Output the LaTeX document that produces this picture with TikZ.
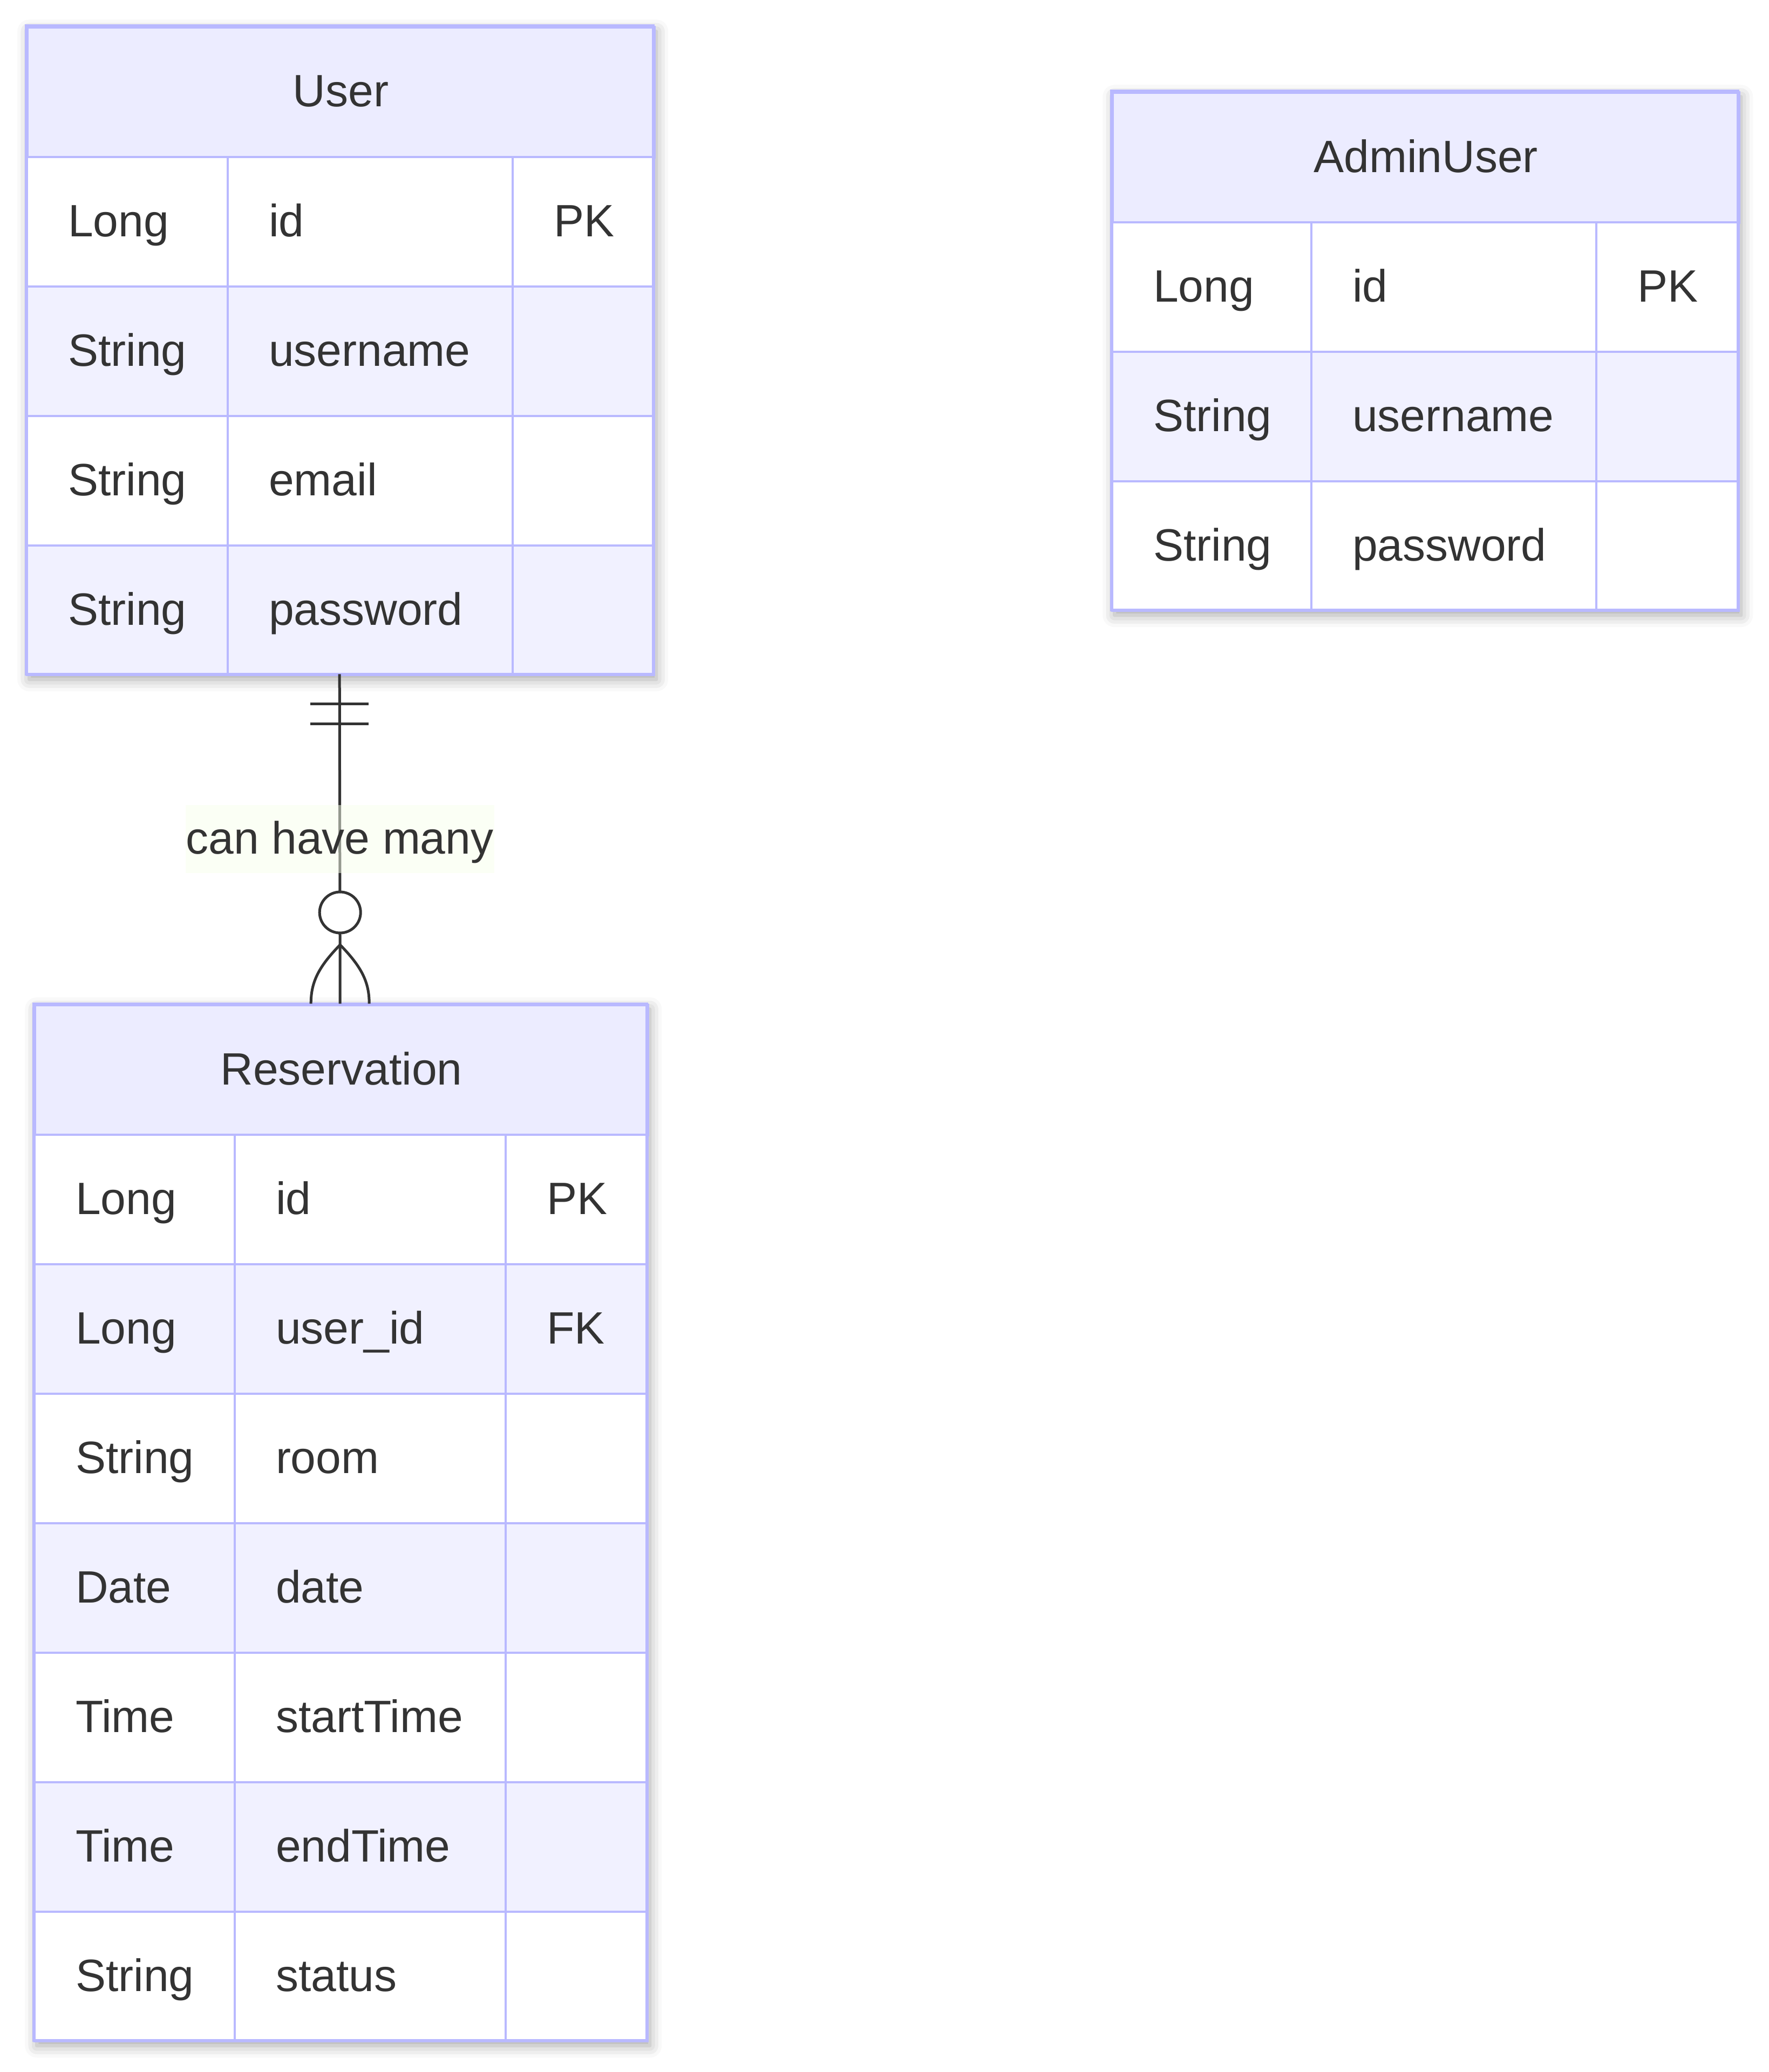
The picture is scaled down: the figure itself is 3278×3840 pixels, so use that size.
\documentclass[tikz,border=0pt]{standalone}
\usepackage{fontspec}
\setmainfont{Liberation Sans}
\usetikzlibrary{shadows.blur,calc}
\definecolor{hdrbg}{HTML}{ECECFF}
\definecolor{evenbg}{HTML}{F1F1FF}
\definecolor{bordc}{HTML}{B9B9FF}
\definecolor{ink}{HTML}{333333}
\definecolor{lblbg}{HTML}{F8FFEB}
\tikzset{
  tframe/.style={fill=white, inner sep=0pt, anchor=north west,
    blur shadow={shadow xshift=6pt, shadow yshift=-10pt, shadow blur radius=22pt, shadow opacity=35}},
  hdr/.style={draw=bordc, line width=5pt, fill=hdrbg, inner sep=0pt, minimum height=241pt, anchor=north west, text=ink, text height=67pt, text depth=13pt},
  cell/.style={draw=bordc, line width=4pt, inner xsep=76pt, inner ysep=0pt, minimum height=240pt, anchor=north west, align=left, text=ink, text height=67pt, text depth=13pt},
  outline/.style={draw=bordc, line width=5pt},
  rel/.style={draw=ink, line width=5pt},
  lbl/.style={fill=lblbg, fill opacity=0.5, text opacity=1, text=ink, inner sep=0pt, minimum width=572pt, minimum height=126pt, text height=67pt, text depth=11pt},
}
% #1 name, #2 x, #3 y, #4 w1, #5 w2, #6 w3, #7 rows, #8 title, #9 row list
\newcommand\ertable[9]{%
  \pgfmathsetmacro\tabw{#4+#5+#6}%
  \pgfmathsetmacro\tabh{241+240*#7}%
  \pgfmathsetmacro\twa{#4-152}%
  \pgfmathsetmacro\twb{#5-152}%
  \pgfmathsetmacro\twc{#6-152}%
  \pgfmathsetmacro\xb{#2+#4}%
  \pgfmathsetmacro\xc{#2+#4+#5}%
  \node[tframe, minimum width=\tabw pt, minimum height=\tabh pt] (#1) at (#2,#3) {};
  \node[hdr, minimum width=\tabw pt] (#1-h) at (#2,#3) {#8};
  \foreach[count=\i] \ta/\tb/\tc in {#9}{%
    \pgfmathsetmacro\yy{#3+241+240*(\i-1)}%
    \ifodd\i \def\rowfill{white}\else\def\rowfill{evenbg}\fi
    \node[cell, fill=\rowfill, text width=\twa pt] (#1-\i-t) at (#2,\yy) {\ta};
    \node[cell, fill=\rowfill, text width=\twb pt] (#1-\i-n) at (\xb,\yy) {\tb};
    \node[cell, fill=\rowfill, text width=\twc pt] (#1-\i-k) at (\xc,\yy) {\tc};
  }
  \draw[outline] (#1.north west) rectangle (#1.south east);
}
\begin{document}
\begin{tikzpicture}[x=1pt,y=-1pt,font=\fontsize{84}{100}\selectfont]
\useasboundingbox (0,0) rectangle (3278,3840);

\ertable{User}{48}{48}{372}{528}{262}{4}{User}{Long/id/PK, String/username/, String/email/, String/password/}
\ertable{Admin}{2059}{169}{369}{528}{264}{3}{AdminUser}{Long/id/PK, String/username/, String/password/}
\ertable{Res}{62}{1860}{371}{502}{263}{7}{Reservation}{Long/id/PK, Long/user\_id/FK, String/room/, Date/date/, Time/startTime/, Time/endTime/, String/status/}

% relationship
\draw[rel] (User.south) -- (Res.north);
\draw[rel] ($(User.south)+(-54,55)$) -- ($(User.south)+(54,55)$);
\draw[rel] ($(User.south)+(-54,92)$) -- ($(User.south)+(54,92)$);
\node[lbl] (lab) at ($(User.south)!0.5!(Res.north)$) {can have many};
\draw[rel, fill=white] ($(Res.north)+(0,-169)$) circle[radius=38];
\coordinate (apex) at ($(Res.north)+(0,-109)$);
\coordinate (footL) at ($(Res.north)+(-54,0)$);
\coordinate (footR) at ($(Res.north)+(54,0)$);
\draw[rel] (apex) .. controls ($(Res.north)+(-40,-68)$) and ($(Res.north)+(-54,-40)$) .. (footL);
\draw[rel] (apex) .. controls ($(Res.north)+(40,-68)$) and ($(Res.north)+(54,-40)$) .. (footR);
\end{tikzpicture}
\end{document}
